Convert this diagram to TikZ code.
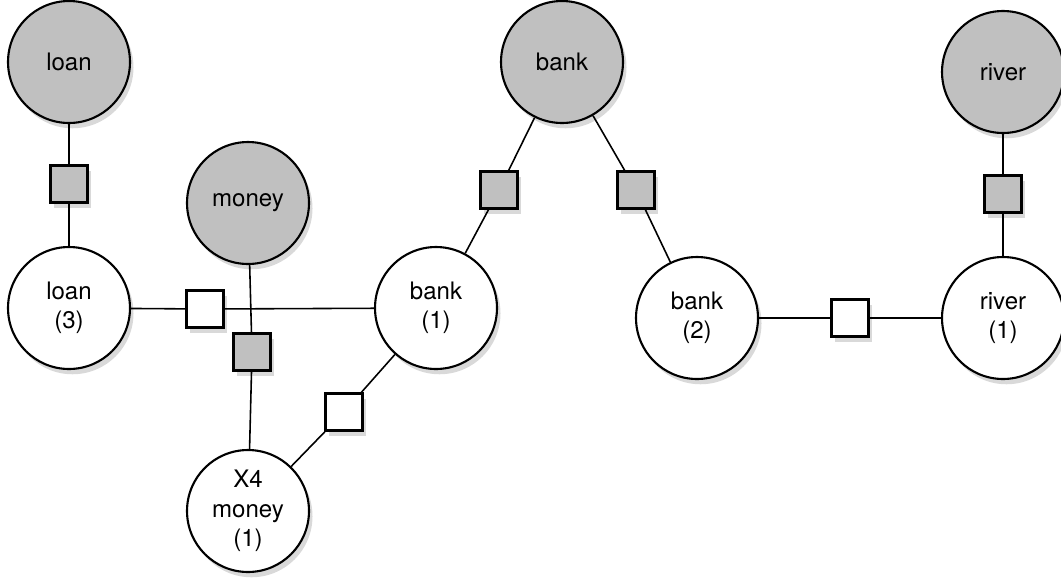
\documentclass[tikz,border=0pt]{standalone}
\usepackage{fontspec}
\setmainfont{TeX Gyre Heros}
\usetikzlibrary{shadows}
\definecolor{obsgray}{RGB}{192,192,192}

\begin{document}
\begin{tikzpicture}[x=0.02cm, y=-0.02cm]
    \tikzstyle{obs} = [shape=circle, draw=black, fill=obsgray, line width=1.2pt, minimum size=2.44cm, inner sep=0pt, align=center, font=\fontsize{13.7}{16.8}\selectfont, drop shadow={opacity=0.3, shadow xshift=2pt, shadow yshift=-3pt}]
    \tikzstyle{hid} = [obs, fill=white]
    \tikzstyle{fac} = [shape=rectangle, draw=black, fill=obsgray, line width=1.2pt, minimum size=0.74cm, inner sep=0pt, drop shadow={opacity=0.3, shadow xshift=2pt, shadow yshift=-3pt}]
    \tikzstyle{wfac} = [fac, fill=white]
    \tikzstyle{link} = [line width=0.9pt]
    \useasboundingbox (0,0) rectangle (1061,582);

    % observed words
    \node (oloan)  [obs] at (69,62)    {loan};
    \node (omoney) [obs] at (248,203)  {money};
    \node (obank)  [obs] at (562,62)   {bank};
    \node (oriver) [obs] at (1003,72)  {river};

    % hidden words
    \node (hloan)  [hid] at (69,308)   {loan\\(3)};
    \node (hbank1) [hid] at (436,308)  {bank\\(1)};
    \node (hbank2) [hid] at (697,318)  {bank\\(2)};
    \node (hriver) [hid] at (1003,318) {river\\(1)};
    \node (hmoney) [hid] at (248,511)  {X4\\money\\(1)};

    % factors
    \node (floan)  [fac]  at (69,184)   {};
    \node (fmoney) [fac]  at (252,352)  {};
    \node (fbank1) [fac]  at (499,190)  {};
    \node (fbank2) [fac]  at (636,190)  {};
    \node (friver) [fac]  at (1003,194) {};
    \node (flb)    [wfac] at (205,309)  {};
    \node (fmb)    [wfac] at (344,412)  {};
    \node (fbr)    [wfac] at (850,318)  {};

    \draw [link] (oloan) -- (floan) -- (hloan);
    \draw [link] (hloan) -- (flb) -- (hbank1);
    \draw [link] (omoney) -- (fmoney) -- (hmoney);
    \draw [link] (hbank1) -- (fmb) -- (hmoney);
    \draw [link] (obank) -- (fbank1) -- (hbank1);
    \draw [link] (obank) -- (fbank2) -- (hbank2);
    \draw [link] (hbank2) -- (fbr) -- (hriver);
    \draw [link] (oriver) -- (friver) -- (hriver);
\end{tikzpicture}
\end{document}
